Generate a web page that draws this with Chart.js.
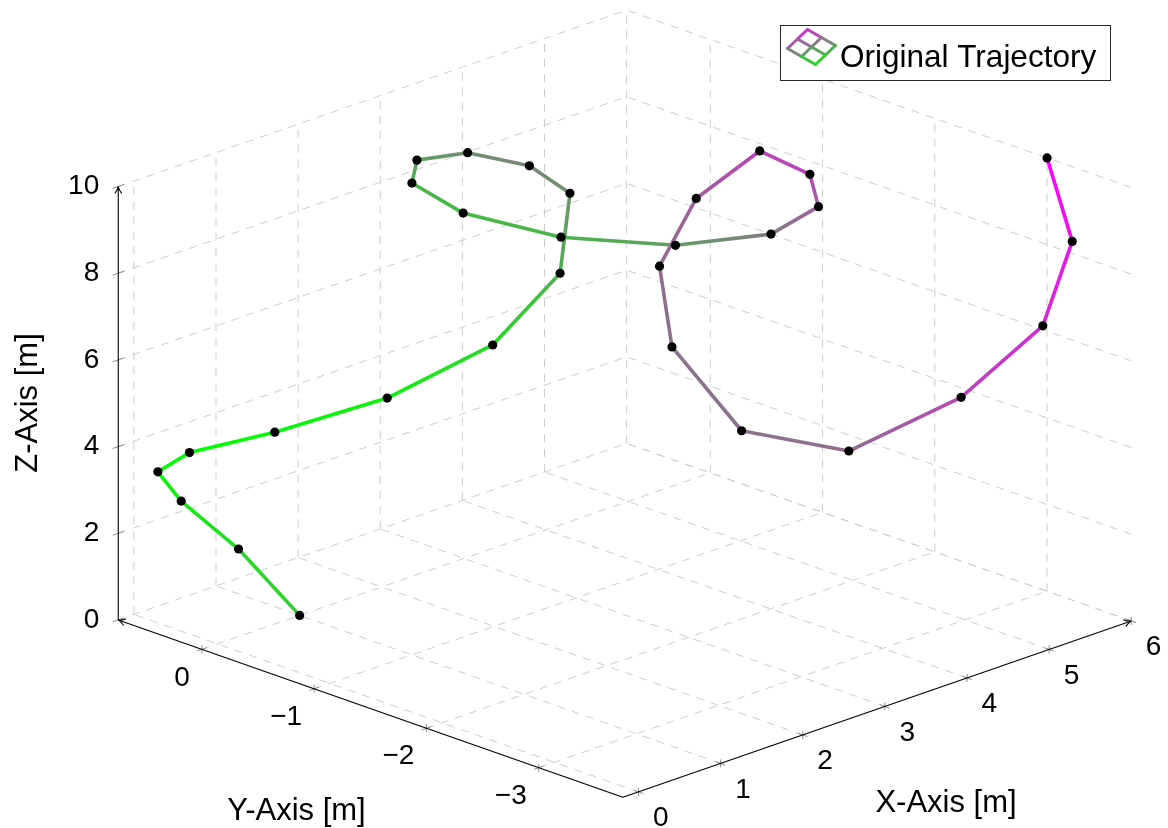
<!DOCTYPE html>
<html>
<head>
<meta charset="utf-8">
<script src="https://cdn.jsdelivr.net/npm/chart.js@4.4.0/dist/chart.umd.min.js"></script>
<style>
  body { margin: 0; background: #fff; }
  #wrap { width: 1168px; height: 828px; }
</style>
</head>
<body>
<div id="wrap"><canvas id="traj"></canvas></div>
<script>
// trajectory samples [m]
const trajX = [1.00, 0.68, 0.31, -0.07, -0.19, 0.00, 0.18, 0.74, 1.67, 2.46, 2.69, 2.54, 2.10, 1.67, 1.46,
  1.64, 2.20, 2.98, 3.75, 4.26, 4.36, 3.71, 3.40, 3.21, 3.21, 3.34, 4.27, 4.95, 5.50, 6.00];
const trajY = [0.00, 0.31, 0.55, 0.48, 0.11, -0.51, -1.38, -1.91, -1.83, -1.34, -0.81, -0.37, -0.24, -0.51, -1.12,
  -1.86, -2.47, -2.75, -2.61, -2.16, -1.64, -1.55, -1.45, -1.70, -2.32, -3.18, -3.50, -3.73, -3.59, -3.00];
const trajZ = [0.00, 1.46, 2.59, 3.58, 4.44, 5.35, 6.81, 8.15, 9.12, 10.0, 10.0, 10.0, 10.0, 10.0, 10.0,
  10.0, 10.0, 10.0, 10.0, 10.0, 10.0, 9.25, 7.80, 6.29, 4.92, 5.15, 6.07, 7.48, 8.94, 10.0];

const xTicks = [0, 1, 2, 3, 4, 5, 6];
const yTicks = [0, -1, -2, -3];
const zTicks = [0, 2, 4, 6, 8, 10];
const yTickLabels = ["0", "\u22121", "\u22122", "\u22123"];

const xRange = [-0.19, 6];
const yRange = [-3.75, 0.745];
const zRange = [0, 10];

// view from the front-left corner, unit vectors in screen units
const view = { ox: 217.5, oy: 643.9, ex: [82.13, -28.5], ey: [-112.27, -39.47], ez: [0, -43.34] };

function project(x, y, z) {
  return {
    x: view.ox + x * view.ex[0] + y * view.ey[0] + z * view.ez[0],
    y: view.oy + x * view.ex[1] + y * view.ey[1] + z * view.ez[1]
  };
}

const cMin = Math.min(...trajX);
const cMax = Math.max(...trajX);

// green -> magenta colormap, meta = x
function cmap(c) {
  c = Math.max(0, Math.min(1, c));
  const a = Math.round(255 * c), b = Math.round(255 * (1 - c));
  return "rgb(" + a + "," + b + "," + a + ")";
}
function colorAt(x) {
  return cmap((x - cMin) / (cMax - cMin));
}

const FONT = '"Liberation Sans", Arial, Helvetica, sans-serif';

function toPx(chart, x, y, z) {
  const p = project(x, y, z);
  return [chart.scales.x.getPixelForValue(p.x), chart.scales.y.getPixelForValue(p.y)];
}

function seg(ctx, p, q) {
  ctx.beginPath();
  ctx.moveTo(p[0], p[1]);
  ctx.lineTo(q[0], q[1]);
  ctx.stroke();
}

function line3(ctx, chart, a, b) {
  seg(ctx, toPx(chart, a[0], a[1], a[2]), toPx(chart, b[0], b[1], b[2]));
}

function unit(v) {
  const l = Math.hypot(v[0], v[1]);
  return [v[0] / l, v[1] / l];
}

function arrowHead(ctx, tip, dir) {
  const d = unit(dir);
  const n = [-d[1], d[0]];
  const len = 7, w = 3.5;
  ctx.beginPath();
  ctx.moveTo(tip[0] - d[0] * len + n[0] * w, tip[1] - d[1] * len + n[1] * w);
  ctx.quadraticCurveTo(tip[0] - d[0] * 2, tip[1] - d[1] * 2, tip[0], tip[1]);
  ctx.quadraticCurveTo(tip[0] - d[0] * 2, tip[1] - d[1] * 2, tip[0] - d[0] * len - n[0] * w, tip[1] - d[1] * len - n[1] * w);
  ctx.stroke();
}

function cross(ctx, p, dirA, lenA, dirB, lenB) {
  const a = unit(dirA), b = unit(dirB);
  seg(ctx, [p[0] - a[0] * lenA, p[1] - a[1] * lenA], [p[0] + a[0] * lenA, p[1] + a[1] * lenA]);
  if (lenB > 0) seg(ctx, [p[0] - b[0] * lenB, p[1] - b[1] * lenB], [p[0] + b[0] * lenB, p[1] + b[1] * lenB]);
}

const axes3d = {
  id: "axes3d",
  beforeDatasetsDraw(chart) {
    const ctx = chart.ctx;
    const [x0, x1] = xRange, [y0, y1] = yRange, [z0, z1] = zRange;
    ctx.save();

    // grid on floor and two back walls
    ctx.strokeStyle = "rgb(205,205,205)";
    ctx.lineWidth = 1;
    ctx.setLineDash([8, 7]);
    xTicks.forEach(x => {
      line3(ctx, chart, [x, y0, z0], [x, y1, z0]);
      line3(ctx, chart, [x, y1, z0], [x, y1, z1]);
    });
    yTicks.forEach(y => {
      line3(ctx, chart, [x0, y, z0], [x1, y, z0]);
      line3(ctx, chart, [x1, y, z0], [x1, y, z1]);
    });
    zTicks.forEach(z => {
      line3(ctx, chart, [x0, y1, z], [x1, y1, z]);
      line3(ctx, chart, [x1, y0, z], [x1, y1, z]);
    });
    ctx.setLineDash([]);

    // tick marks
    const ex = view.ex, ey = view.ey;
    ctx.strokeStyle = "rgb(140,140,140)";
    ctx.lineWidth = 1;
    xTicks.forEach(x => cross(ctx, toPx(chart, x, y0, z0), ey, 5, [0, 1], 4));
    yTicks.forEach(y => cross(ctx, toPx(chart, x0, y, z0), ex, 5, [0, 1], 4));
    zTicks.forEach(z => cross(ctx, toPx(chart, x0, y1, z), ex, 6, [0, 1], 0));

    // axis lines
    ctx.strokeStyle = "#000";
    ctx.lineWidth = 1.1;
    const corner = toPx(chart, x0, y0, z0);
    const org = toPx(chart, x0, y1, z0);
    const xEnd = toPx(chart, x1, y0, z0);
    const zEnd = toPx(chart, x0, y1, z1);
    seg(ctx, corner, xEnd);
    seg(ctx, corner, org);
    seg(ctx, org, zEnd);
    arrowHead(ctx, xEnd, [xEnd[0] - corner[0], xEnd[1] - corner[1]]);
    arrowHead(ctx, org, [org[0] - corner[0], org[1] - corner[1]]);
    arrowHead(ctx, zEnd, [0, -1]);

    // tick labels
    ctx.fillStyle = "#000";
    ctx.font = "28px " + FONT;
    ctx.textBaseline = "middle";
    ctx.textAlign = "left";
    xTicks.forEach(x => {
      const p = toPx(chart, x, y0, z0);
      ctx.fillText(String(x), p[0] + 14.5, p[1] + 26.5);
    });
    ctx.textAlign = "right";
    yTicks.forEach((y, i) => {
      const p = toPx(chart, x0, y, z0);
      ctx.fillText(yTickLabels[i], p[0] - 12, p[1] + 28.5);
    });
    zTicks.forEach(z => {
      const p = toPx(chart, x0, y1, z);
      ctx.fillText(String(z), p[0] - 19, p[1]);
    });

    // axis titles
    ctx.font = "31px " + FONT;
    ctx.textAlign = "center";
    ctx.fillText("X-Axis [m]", 946, 803);
    ctx.fillText("Y-Axis [m]", 296.5, 811);
    ctx.save();
    ctx.translate(28, 403);
    ctx.rotate(-Math.PI / 2);
    ctx.fillText("Z-Axis [m]", 0, 0);
    ctx.restore();

    ctx.restore();
  }
};

const legendBox = {
  id: "legendBox",
  afterDatasetsDraw(chart) {
    const ctx = chart.ctx;
    const bx = 780.5, by = 25.5, bw = 330, bh = 55;
    ctx.save();
    ctx.fillStyle = "#fff";
    ctx.fillRect(bx, by, bw, bh);
    ctx.strokeStyle = "rgb(40,40,40)";
    ctx.lineWidth = 1;
    ctx.strokeRect(bx, by, bw, bh);

    // small mesh icon
    const T = [bx + 27, by + 4], R = [bx + 55, by + 20], L = [bx + 7, by + 23];
    const vert = (i, j) => [T[0] + (R[0] - T[0]) * i / 2 + (L[0] - T[0]) * j / 2,
                            T[1] + (R[1] - T[1]) * i / 2 + (L[1] - T[1]) * j / 2];
    const cv = (i, j) => 0.85 - 0.25 * i - 0.125 * j;
    ctx.lineWidth = 3;
    ctx.lineCap = "round";
    for (let i = 0; i <= 2; i++) {
      for (let j = 0; j <= 2; j++) {
        if (i < 2) {
          ctx.strokeStyle = cmap((cv(i, j) + cv(i + 1, j)) / 2);
          seg(ctx, vert(i, j), vert(i + 1, j));
        }
        if (j < 2) {
          ctx.strokeStyle = cmap((cv(i, j) + cv(i, j + 1)) / 2);
          seg(ctx, vert(i, j), vert(i, j + 1));
        }
      }
    }

    ctx.fillStyle = "#000";
    ctx.font = "31.5px " + FONT;
    ctx.textAlign = "left";
    ctx.textBaseline = "alphabetic";
    ctx.fillText(chart.data.datasets[0].label, bx + 59.5, by + 41);
    ctx.restore();
  }
};

const points = trajX.map((x, i) => project(x, trajY[i], trajZ[i]));

new Chart(document.getElementById("traj"), {
  type: "scatter",
  data: {
    datasets: [
      {
        label: "Original Trajectory",
        data: points,
        showLine: true,
        borderWidth: 3.6,
        borderCapStyle: "round",
        borderColor: "rgb(128,128,128)",
        pointRadius: 4.6,
        pointHoverRadius: 4.6,
        pointBackgroundColor: "#000",
        pointBorderColor: "#000",
        pointBorderWidth: 0,
        segment: {
          // colour interpolated between the two end points of each piece
          borderColor: (ctx) => {
            const g = ctx.chart.ctx.createLinearGradient(ctx.p0.x, ctx.p0.y, ctx.p1.x, ctx.p1.y);
            g.addColorStop(0, colorAt(trajX[ctx.p0DataIndex]));
            g.addColorStop(1, colorAt(trajX[ctx.p1DataIndex]));
            return g;
          },
          borderDashOffset: (ctx) => ctx.p0DataIndex, // keeps every piece separate
        },
      },
    ],
  },
  options: {
    responsive: true,
    maintainAspectRatio: false,
    animation: false,
    events: [],
    layout: { padding: 0, autoPadding: false },
    plugins: {
      legend: { display: false },
      tooltip: { enabled: false },
    },
    scales: {
      x: { type: "linear", display: false, min: 0, max: 1168 },
      y: { type: "linear", display: false, min: 0, max: 828, reverse: true },
    },
  },
  plugins: [axes3d, legendBox],
});
</script>
</body>
</html>
